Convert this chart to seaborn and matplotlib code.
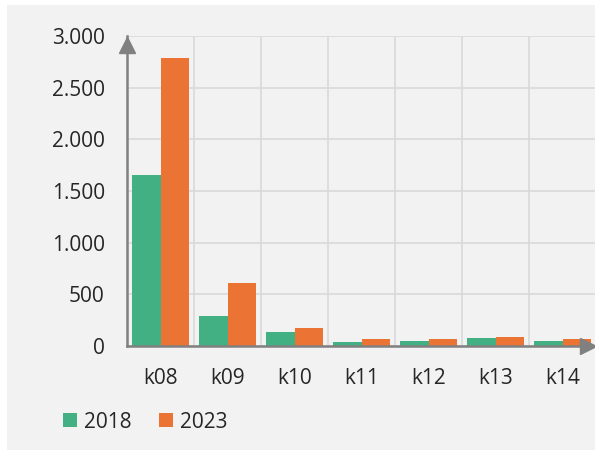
import pandas as pd
import seaborn as sns
import matplotlib.pyplot as plt
from matplotlib.patches import Rectangle

# Chart values
categories = ["k08", "k09", "k10", "k11", "k12", "k13", "k14"]
values_2018 = [1655, 293, 132, 36, 48, 77, 51]
values_2023 = [2790, 613, 171, 71, 68, 90, 65]
years = ["2018", "2023"]
y_ticks = [0, 500, 1000, 1500, 2000, 2500, 3000]
y_labels = ["0", "500", "1.000", "1.500", "2.000", "2.500", "3.000"]

data = pd.DataFrame({
    "cat": categories * 2,
    "year": [years[0]] * len(categories) + [years[1]] * len(categories),
    "value": values_2018 + values_2023,
})

GREEN = "#43b083"
ORANGE = "#eb7434"
BG = "#f2f2f2"
AXIS = "#808080"
GRID = "#d9d9d9"
TEXT = "#262626"

sns.set_style("white")
plt.rcParams["font.family"] = ["Open Sans", "DejaVu Sans"]

W, H = 595, 450
fig = plt.figure(figsize=(W / 100, H / 100), dpi=100)
fig.patch.set_facecolor("white")
fig.patches.append(Rectangle((7 / W, 0), 1, 445 / H, transform=fig.transFigure,
                             facecolor=BG, edgecolor="none", zorder=-10))

ax = fig.add_axes([127 / W, 104 / H, 469 / W, 310 / H])
ax.set_facecolor(BG)

sns.barplot(data, x="cat", y="value", hue="year",
            palette={"2018": GREEN, "2023": ORANGE},
            width=0.84, linewidth=0, saturation=1, ax=ax, legend=False)

ax.set_xlim(-0.5, 6.5)
ax.set_ylim(0, 3000)
ax.set_yticks(y_ticks)
ax.set_yticklabels(y_labels)
ax.set_xlabel("")
ax.set_ylabel("")

# category boundary ticks + vertical grid
ax.set_xticks([i - 0.5 for i in range(len(categories) + 1)], minor=True)
ax.tick_params(axis="x", which="minor", length=7, width=1.2, color=AXIS, direction="out")
ax.tick_params(axis="x", which="major", length=0, pad=16, labelsize=15, labelcolor=TEXT)
ax.tick_params(axis="y", length=0, pad=16, labelsize=15, labelcolor=TEXT)
ax.grid(True, which="minor", axis="x", color=GRID, linewidth=1.2)
ax.grid(True, which="major", axis="y", color=GRID, linewidth=1.2)
ax.set_axisbelow(True)

for side in ["top", "right"]:
    ax.spines[side].set_visible(False)
for side in ["left", "bottom"]:
    ax.spines[side].set_color(AXIS)
    ax.spines[side].set_linewidth(1.8)
    ax.spines[side].set_zorder(5)

# arrow heads
ax.plot(0, 0.971, marker="^", markersize=11, color=AXIS, transform=ax.transAxes,
        clip_on=False, zorder=6)
ax.plot(0.983, 0, marker=">", markersize=11, color=AXIS, transform=ax.transAxes,
        clip_on=False, zorder=6)

handles = [Rectangle((0, 0), 1, 1, facecolor=c, edgecolor="none") for c in [GREEN, ORANGE]]
fig.legend(handles, years, loc="center left", bbox_to_anchor=(63 / W, 28 / H),
           ncol=2, frameon=False, fontsize=15, handlelength=0.67, handleheight=0.67,
           handletextpad=0.35, columnspacing=1.3, borderpad=0, borderaxespad=0,
           labelcolor=TEXT)

plt.savefig("out.png", dpi=100, facecolor=fig.get_facecolor())
